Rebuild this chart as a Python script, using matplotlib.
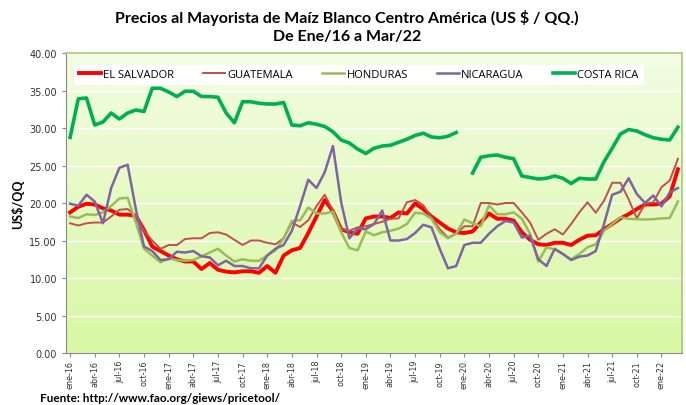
import matplotlib
matplotlib.use('Agg')
import matplotlib.pyplot as plt
import numpy as np

# Monthly wholesale white-maize prices, Jan 2016 - Mar 2022 (US$/QQ)
meses = ['ene', 'feb', 'mar', 'abr', 'may', 'jun', 'jul', 'ago', 'sep', 'oct', 'nov', 'dic']
anios = ['16', '17', '18', '19', '20', '21', '22']

el_salvador = [18.75, 19.5, 19.9, 19.8, 19.3, 19.0, 18.45, 18.45, 18.3, 16.4, 14.2, 13.6,
               13.0, 12.5, 12.2, 12.2, 11.2, 12.0, 11.1, 10.85, 10.75, 10.9, 10.9, 10.7,
               11.6, 10.7, 13.0, 13.7, 14.0, 16.0, 18.2, 20.4, 18.9, 16.5, 16.1, 15.9,
               17.95, 18.2, 18.2, 18.0, 18.75, 18.6, 19.95, 19.2, 18.2, 17.4, 16.6, 16.1,
               16.0, 16.2, 17.4, 18.6, 17.9, 17.9, 17.65, 16.1, 15.1, 14.5, 14.4, 14.7,
               14.7, 14.4, 15.1, 15.65, 15.7, 16.5, 17.2, 17.95, 18.5, 19.2, 19.8, 19.8,
               19.9, 20.9, 24.5]
guatemala = [17.3, 17.0, 17.3, 17.4, 17.4, 18.2, 19.1, 19.2, 18.3, 16.3, 15.0, 13.9,
             14.4, 14.4, 15.2, 15.3, 15.3, 16.0, 16.1, 15.8, 15.1, 14.4, 15.0, 15.0,
             14.7, 14.5, 15.3, 17.4, 16.8, 17.7, 19.6, 21.1, 19.0, 16.5, 16.3, 16.75,
             16.9, 17.2, 17.5, 17.9, 17.95, 20.1, 20.4, 19.7, 18.1, 16.5, 15.4, 15.9,
             16.9, 16.9, 20.0, 20.0, 19.8, 20.0, 20.0, 18.75, 17.4, 15.1, 15.9, 16.5,
             15.8, 17.2, 18.75, 20.1, 18.7, 20.3, 22.7, 22.7, 20.5, 17.95, 19.9, 20.1,
             22.1, 23.0, 25.9]
honduras = [18.2, 18.0, 18.5, 18.4, 18.75, 19.6, 20.6, 20.7, 17.4, 13.9, 13.0, 12.1,
            12.6, 12.4, 12.3, 12.4, 12.9, 13.4, 13.9, 13.0, 12.2, 12.5, 12.3, 12.3,
            13.0, 13.7, 15.3, 17.6, 17.7, 19.4, 18.6, 18.6, 18.85, 16.1, 14.0, 13.7,
            16.2, 15.7, 16.1, 16.3, 16.6, 17.2, 18.7, 18.6, 17.9, 16.1, 15.3, 15.9,
            17.8, 17.3, 16.9, 19.7, 18.5, 18.5, 18.75, 17.9, 15.9, 12.2, 14.1, 13.8,
            13.2, 12.5, 13.2, 14.1, 14.5, 16.3, 17.2, 18.1, 17.9, 17.85, 17.8, 17.85,
            17.95, 18.0, 20.2]
nicaragua = [19.9, 19.65, 21.1, 20.2, 17.3, 22.0, 24.7, 25.1, 19.2, 14.2, 13.6, 12.4,
             12.5, 13.5, 13.4, 13.6, 12.9, 12.75, 11.7, 12.3, 11.6, 11.6, 11.3, 11.3,
             13.0, 13.9, 14.4, 16.3, 19.6, 23.1, 22.0, 24.1, 27.6, 20.1, 15.3, 16.6,
             16.5, 17.2, 19.0, 15.0, 15.0, 15.2, 16.0, 17.1, 16.75, 13.9, 11.3, 11.6,
             14.4, 14.7, 14.7, 15.9, 16.9, 17.6, 17.4, 15.4, 15.65, 12.5, 11.6, 13.9,
             13.2, 12.4, 12.85, 13.0, 13.6, 17.2, 21.1, 21.5, 23.3, 21.2, 20.0, 21.0,
             19.55, 21.4, 22.0]
costa_rica = [28.75, 33.9, 34.0, 30.4, 30.8, 32.0, 31.2, 32.0, 32.4, 32.2, 35.3, 35.3,
              34.8, 34.2, 34.9, 34.9, 34.2, 34.2, 34.1, 32.0, 30.7, 33.5, 33.5, 33.3,
              33.2, 33.2, 33.4, 30.4, 30.3, 30.7, 30.5, 30.2, 29.5, 28.4, 28.0, 27.2,
              26.6, 27.3, 27.6, 27.7, 28.1, 28.5, 29.0, 29.3, 28.8, 28.7, 28.9, 29.4,
              np.nan, 24.0, 26.1, 26.3, 26.4, 26.1, 25.9, 23.6, 23.4, 23.2, 23.3, 23.6,
              23.3, 22.6, 23.3, 23.2, 23.2, 25.5, 27.3, 29.2, 29.8, 29.6, 29.1, 28.7,
              28.5, 28.4, 30.1]

etiquetas = [f'{m}-{a}' for a in anios for m in meses][:len(el_salvador)]
x = np.arange(len(el_salvador))

series = [
    ('EL SALVADOR', el_salvador, '#ff0000', 2.8),
    ('GUATEMALA', guatemala, '#c0504d', 1.4),
    ('HONDURAS', honduras, '#9bbb59', 1.8),
    ('NICARAGUA', nicaragua, '#8064a2', 1.8),
    ('COSTA RICA', costa_rica, '#00b050', 2.6),
]

fig = plt.figure(figsize=(6.86, 4.06), dpi=100)
ax = fig.add_axes([0.0962, 0.128, 0.898, 0.739])

# plot area: light green vertical gradient
grad = np.linspace(0, 1, 256).reshape(-1, 1)
top = np.array([0.95, 0.99, 0.89])
bottom = np.array([0.85, 0.97, 0.64])
img = top + (bottom - top) * grad[:, :, None]
ax.imshow(img, extent=(-0.5, len(x) - 0.5, 0, 40), aspect='auto', origin='upper', zorder=0)

for nombre, vals, color, lw in series:
    ax.plot(x, vals, color=color, lw=lw, label=nombre, zorder=3, solid_joinstyle='round')

ax.set_xlim(-0.5, len(x) - 0.5)
ax.set_ylim(0, 40)
ax.set_yticks(np.arange(0, 40.1, 5))
ax.set_yticklabels([f'{v:.2f}' for v in np.arange(0, 40.1, 5)], fontsize=7, color='#333333')
ax.set_xticks(x[::3])
ax.set_xticklabels(etiquetas[::3], rotation=90, fontsize=5.8, color='#333333')
ax.tick_params(axis='both', length=3, color='#888888', width=0.8)
ax.tick_params(axis='x', pad=2)
ax.grid(axis='y', color='white', lw=1.0, zorder=1)
ax.set_axisbelow(True)

for lado in ['top', 'right']:
    ax.spines[lado].set_color('#a9c97a')
    ax.spines[lado].set_linewidth(1.2)
ax.spines['bottom'].set_color('#888888')
ax.spines['left'].set_color('#888888')

ax.set_ylabel('US$/QQ', fontsize=9, fontweight='bold', family='Lato', labelpad=4)

leg = ax.legend(loc='upper center', bbox_to_anchor=(0.475, 0.98), ncol=5,
                frameon=True, fancybox=False, handlelength=2.0, handletextpad=0.2,
                columnspacing=2.6, borderpad=0.4, prop={'family': 'Open Sans', 'size': 8})
leg.get_frame().set_facecolor('white')
leg.get_frame().set_edgecolor('white')
leg.get_frame().set_alpha(1)

fig.text(0.506, 0.955, 'Precios al Mayorista de Maíz Blanco Centro América (US $ / QQ.)',
         ha='center', va='center', fontsize=11.5, fontweight='bold', family='Lato')
fig.text(0.506, 0.908, 'De Ene/16 a Mar/22', ha='center', va='center',
         fontsize=11.5, fontweight='bold', family='Lato')
fig.text(0.058, 0.004, 'Fuente: http://www.fao.org/giews/pricetool/', ha='left', va='bottom',
         fontsize=8.5, fontweight='bold', family='Lato')

fig.savefig('out.png', dpi=100)
